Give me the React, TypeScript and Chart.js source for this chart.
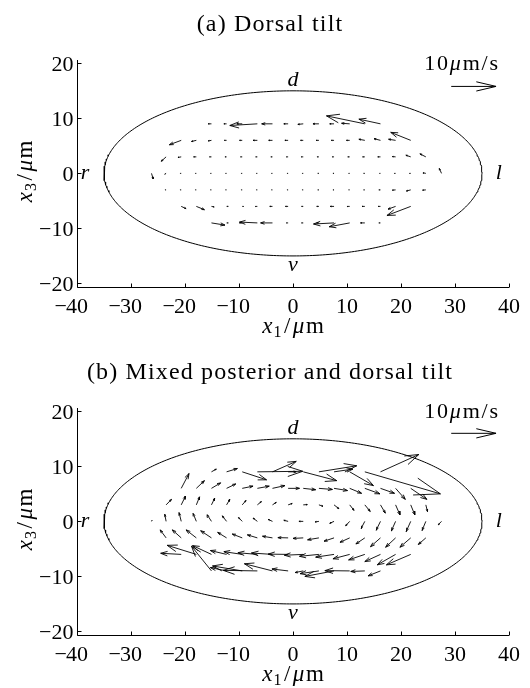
import { useEffect, useRef } from "react";
import { Chart, registerables } from "chart.js";

Chart.register(...registerables);

// ---- axes ----
const X_MIN = -40;
const X_MAX = 40;
const Y_MIN = -20.7;
const Y_MAX = 20.6;
const X_TICKS = [-40, -30, -20, -10, 0, 10, 20, 30, 40];
const Y_TICKS = [-20, -10, 0, 10, 20];

// ---- cell outline (semi-axes, µm) ----
const CELL_A = 35;
const CELL_B = 15;

// ---- quiver grid ----
const GRID_X = [-26.2, -23.5, -20.7, -17.9, -15.1, -12.3, -9.4, -6.6, -3.8, -0.9, 1.9, 4.8, 7.6, 10.5, 13.3, 16.2, 19.0, 21.8, 24.6, 27.5];
const GRID_Y = [9, 6, 3, 0, -3, -6, -9];
const ROW_START = [4, 2, 1, 0, 1, 2, 4];

// ---- panel (a) Dorsal tilt : arrow components (plot units) ----
const A_U = [
  [-0.6, -0.5, -1.0, -5.1, -2.0, -0.8, -1.0, -1.1, -0.8, -1.5, -7.1, -4.0],
  [-2.2, -0.9, -0.6, -0.4, -0.5, -0.8, -0.7, -0.6, -0.5, -0.5, -0.5, -0.6, -1.1, -1.2, -1.3, -3.7],
  [-0.9, -0.6, -0.5, -0.35, -0.3, -0.3, -0.3, -0.3, -0.3, -0.4, -0.35, -0.35, -0.35, -0.4, -0.5, -0.6, -0.9, -1.1],
  [0.3, -0.25, -0.2, -0.2, -0.2, -0.2, -0.2, -0.2, -0.2, -0.2, -0.2, -0.2, -0.2, -0.2, -0.2, -0.2, -0.25, -0.25, -0.5, -0.4],
  [-0.2, -0.2, -0.2, -0.2, -0.2, -0.2, -0.2, -0.2, -0.2, -0.2, -0.2, -0.2, -0.2, -0.2, -0.3, -0.6, -0.8, -0.6],
  [0.9, 1.5, 0.5, 0.3, 0.25, -0.4, -0.5, -0.5, -0.3, -0.4, -0.7, -0.5, -0.5, -0.4, -1.4, -4.4],
  [2.5, 0.3, -0.5, -3.3, -2.2, -0.3, -0.3, -0.4, -3.8, -3.8, -0.8, -0.3],
];
const A_V = [
  [0, 0, 0, -0.3, 0, 0, -0.1, 0, 0, 0.1, 1.45, 0.85],
  [-0.8, -0.2, -0.1, 0, 0, 0, 0, 0, 0, 0, 0, 0, 0.2, 0.3, 0.2, 1.45],
  [-0.8, -0.1, 0, 0, 0, 0, 0, 0, 0, 0, 0, 0, 0, 0, 0, 0.05, 0.3, 0.55],
  [-1.0, -0.15, 0, 0, 0, 0, 0, 0, 0, 0, 0, 0, 0, 0, 0, 0, 0, 0, 0.1, 0.9],
  [0, 0, 0, 0, 0, 0, 0, 0, 0, 0, 0, 0, 0, 0, 0, -0.05, -0.2, -0.05],
  [-0.4, -0.6, -0.1, 0, 0, 0, 0, 0, 0, 0, 0, 0, 0, 0, -0.5, -1.65],
  [-0.4, 0, 0, 0.15, 0, 0, 0, 0, -0.2, -0.7, 0, 0],
];

// ---- panel (b) Mixed posterior and dorsal tilt ----
const B_U = [
  [0.9, 2.0, 4.5, 8.4, 4.4, 1.5, 6.2, 7.0, 3.5, 4.4, 14.0, 7.1],
  [1.45, 1.5, 1.7, 1.7, 2.0, 2.2, 2.3, 2.1, 2.3, 2.5, 2.5, 2.2, 2.8, 2.6, 1.8, 3.0],
  [1.0, 0.8, 0.6, 0.6, 0.6, 0.7, 0.75, 0.7, 0.75, 0.75, 0.75, 0.9, 0.8, 1.0, 0.9, 0.8, 0.75, 0.3],
  [0.1, -0.25, -0.4, -0.6, -0.8, -0.8, -0.7, -0.8, -0.8, -0.8, -0.8, -0.7, -0.8, -0.75, -0.7, -0.8, -0.8, -0.85, -0.7, -0.6],
  [-1.1, -1.65, -1.9, -2.0, -1.65, -1.85, -1.85, -1.85, -1.9, -1.9, -2.1, -1.85, -1.8, -1.65, -1.85, -1.85, -2.0, -1.4],
  [-3.8, -5.4, -3.5, -3.0, -3.4, -3.6, -3.9, -3.7, -3.5, -3.6, -3.4, -3.1, -3.0, -2.9, -3.4, -4.5],
  [-3.7, -3.0, -5.5, -6.3, -5.2, -3.0, -1.5, -3.5, -5.4, -4.6, -2.6, -2.3],
];
const B_V = [
  [0.5, 0.6, -1.45, 0.1, 1.9, 0, -1.6, 1.1, 0.5, -2.5, -4.0, 3.15],
  [2.7, 1.4, 1.0, 0.8, 0.4, 0.4, 0.5, 0.0, -0.25, -0.2, -0.4, -0.9, -1.0, -0.9, -2.0, -2.0],
  [1.0, 1.6, 1.45, 1.2, 1.0, 0.8, 0.6, 0.45, 0.25, 0.05, -0.25, -0.7, -1.0, -1.2, -1.5, -1.8, -1.8, -1.2],
  [0.2, 1.3, 1.6, 1.45, 1.2, 1.0, 0.7, 0.6, 0.35, 0.2, 0.0, -0.1, -0.35, -0.8, -1.3, -1.6, -1.75, -1.85, -1.65, -0.6],
  [1.45, 1.45, 1.45, 1.3, 1.0, 0.7, 0.55, 0.3, 0.05, -0.1, -0.35, -0.6, -0.8, -1.1, -1.6, -1.7, -1.7, -1.2],
  [0.2, 1.65, 1.6, 0.7, 0.5, 0.3, 0.25, 0.05, -0.15, -0.35, -0.5, -0.8, -1.0, -1.3, -1.9, -1.9],
  [4.5, 0.6, 0.9, 0.1, 1.3, 0.35, -0.3, -0.5, -1.0, 0.05, -0.1, -0.9],
];

const TITLES = ["(a) Dorsal tilt", "(b) Mixed posterior and dorsal tilt"];
const KEY_LABEL = "10";
const KEY_UNIT_MU = "\u03bc";
const KEY_UNIT_REST = "m/s";
const KEY_LENGTH = 8.3; // plot units representing 10 µm/s

const SERIF = '"Liberation Serif", "Times New Roman", serif';

type Pt = { x: number; y: number };

function gap(): Pt {
  return { x: NaN, y: NaN };
}

function arrowPts(x: number, y: number, u: number, v: number, alpha: number, beta: number): Pt[] {
  const tx = x + u;
  const ty = y + v;
  return [
    { x, y },
    { x: tx, y: ty },
    gap(),
    { x: tx - alpha * (u + beta * v), y: ty - alpha * (v - beta * u) },
    { x: tx, y: ty },
    { x: tx - alpha * (u - beta * v), y: ty - alpha * (v + beta * u) },
    gap(),
  ];
}

function quiverPoints(U: number[][], V: number[][]): Pt[] {
  const pts: Pt[] = [];
  GRID_Y.forEach((y, r) => {
    U[r].forEach((u, k) => {
      const x = GRID_X[ROW_START[r] + k];
      pts.push(...arrowPts(x, y, u, V[r][k], 0.33, 0.33));
    });
  });
  return pts;
}

function ellipsePoints(): Pt[] {
  const pts: Pt[] = [];
  const n = 360;
  for (let i = 0; i <= n; i++) {
    const t = (i / n) * 2 * Math.PI;
    pts.push({ x: CELL_A * Math.cos(t), y: CELL_B * Math.sin(t) });
  }
  return pts;
}

const decorPlugin = {
  id: "panelDecor",
  afterDraw(chart: any, _args: any, opts: any) {
    const { ctx, chartArea: ca, scales } = chart;
    const xs = scales.x;
    const ys = scales.y;
    ctx.save();
    ctx.strokeStyle = "#000";
    ctx.lineWidth = 1;
    ctx.beginPath();
    const ax = Math.round(ca.left) + 0.5;
    const ay = Math.round(ca.bottom) + 0.5;
    ctx.moveTo(ax, ca.top);
    ctx.lineTo(ax, ay);
    ctx.lineTo(ca.right, ay);
    X_TICKS.forEach((v) => {
      const px = Math.round(xs.getPixelForValue(v)) + 0.5;
      ctx.moveTo(px, ay);
      ctx.lineTo(px, ay - 4);
    });
    Y_TICKS.forEach((v) => {
      const py = Math.round(ys.getPixelForValue(v)) + 0.5;
      ctx.moveTo(ax, py);
      ctx.lineTo(ax + 4, py);
    });
    ctx.stroke();

    ctx.fillStyle = "#000";
    // tick labels
    ctx.font = `22px ${SERIF}`;
    ctx.textBaseline = "alphabetic";
    X_TICKS.forEach((v) => {
      const px = xs.getPixelForValue(v);
      const digits = String(Math.abs(v));
      ctx.textAlign = "center";
      ctx.fillText(digits, px, ca.bottom + 26);
      if (v < 0) {
        const w = ctx.measureText(digits).width;
        ctx.textAlign = "right";
        ctx.fillText("\u2212", px - w / 2 + 1, ca.bottom + 26);
      }
    });
    ctx.textAlign = "right";
    Y_TICKS.forEach((v) => {
      const py = ys.getPixelForValue(v);
      const s = v < 0 ? "\u2212" + String(-v) : String(v);
      ctx.fillText(s, ca.left - 3.5, py + 7.4);
    });

    // title
    ctx.font = `24px ${SERIF}`;
    ctx.textAlign = "center";
    try {
      (ctx as any).letterSpacing = "1.15px";
    } catch (e) {}
    ctx.fillText(opts.title, 270, 30.5);
    try {
      (ctx as any).letterSpacing = "0px";
    } catch (e) {}

    // x label  x1/µm
    const drawLabel = (cx: number, baseY: number, sub: string) => {
      const parts = [
        { t: "x", f: `italic 23px ${SERIF}`, dy: 0, sp: 1 },
        { t: sub, f: `16px ${SERIF}`, dy: 4.5, sp: 2.5 },
        { t: "/", f: `23px ${SERIF}`, dy: 0, sp: 2.5 },
        { t: "\u03bc", f: `italic 23px ${SERIF}`, dy: 0, sp: 1.5 },
        { t: "m", f: `23px ${SERIF}`, dy: 0, sp: 0 },
      ];
      let total = 0;
      parts.forEach((p) => {
        ctx.font = p.f;
        total += ctx.measureText(p.t).width + p.sp;
      });
      let x = cx - total / 2;
      ctx.textAlign = "left";
      parts.forEach((p) => {
        ctx.font = p.f;
        ctx.fillText(p.t, x, baseY + p.dy);
        x += ctx.measureText(p.t).width + p.sp;
      });
    };
    drawLabel(xs.getPixelForValue(0), 332.7, "1");
    ctx.save();
    ctx.translate(31.5, ys.getPixelForValue(0) - 2);
    ctx.rotate(-Math.PI / 2);
    drawLabel(0, 0, "3");
    ctx.restore();

    // orientation letters
    ctx.font = `italic 22px ${SERIF}`;
    ctx.textAlign = "center";
    ctx.fillText("d", xs.getPixelForValue(0), ys.getPixelForValue(15.9));
    ctx.fillText("v", xs.getPixelForValue(0), ys.getPixelForValue(-17.8));
    ctx.fillText("r", xs.getPixelForValue(-38.5), ys.getPixelForValue(-0.95));
    ctx.fillText("l", xs.getPixelForValue(38.1), ys.getPixelForValue(-0.95));

    // key label 10µm/s
    const keyParts = [
      { t: KEY_LABEL, f: `22px ${SERIF}` },
      { t: KEY_UNIT_MU, f: `italic 22px ${SERIF}` },
      { t: KEY_UNIT_REST, f: `22px ${SERIF}` },
    ];
    let kw = 0;
    const kSp = 1.8;
    keyParts.forEach((p) => {
      ctx.font = p.f;
      kw += ctx.measureText(p.t).width + kSp * p.t.length;
    });
    let kx = xs.getPixelForValue(38.3) - kw;
    const ky = ys.getPixelForValue(18.8);
    ctx.textAlign = "left";
    keyParts.forEach((p) => {
      ctx.font = p.f;
      try {
        (ctx as any).letterSpacing = kSp + "px";
      } catch (e) {}
      ctx.fillText(p.t, kx, ky);
      kx += ctx.measureText(p.t).width;
    });
    try {
      (ctx as any).letterSpacing = "0px";
    } catch (e) {}
    ctx.restore();
  },
};

function makeChart(canvas: HTMLCanvasElement, idx: number, height: number) {
  const U = idx === 0 ? A_U : B_U;
  const V = idx === 0 ? A_V : B_V;
  const keyY = idx === 0 ? 15.8 : 16.0;
  const keyX = 29.3;
  return new Chart(canvas, {
    type: "scatter",
    data: {
      datasets: [
        {
          data: ellipsePoints(),
          showLine: true,
          borderColor: "#000",
          borderWidth: 1,
          pointRadius: 0,
          tension: 0,
        } as any,
        {
          data: quiverPoints(U, V),
          showLine: true,
          spanGaps: false,
          borderColor: "#000",
          borderWidth: 0.9,
          pointRadius: 0,
          tension: 0,
        } as any,
        {
          data: arrowPts(keyX, keyY, KEY_LENGTH, 0, 0.44, 0.23),
          showLine: true,
          spanGaps: false,
          borderColor: "#000",
          borderWidth: 1,
          pointRadius: 0,
          tension: 0,
        } as any,
      ],
    },
    options: {
      animation: false,
      responsive: false,
      devicePixelRatio: 1,
      events: [],
      layout: { padding: { top: 60, right: 21, left: 0, bottom: 0 } },
      plugins: {
        legend: { display: false },
        tooltip: { enabled: false },
        title: { display: false },
        panelDecor: { title: TITLES[idx] },
      } as any,
      scales: {
        x: {
          type: "linear",
          min: X_MIN,
          max: X_MAX,
          ticks: { display: false },
          grid: { display: false },
          border: { display: false },
          afterFit: (s: any) => {
            s.height = height - 287.3;
          },
        },
        y: {
          type: "linear",
          min: Y_MIN,
          max: Y_MAX,
          ticks: { display: false },
          grid: { display: false },
          border: { display: false },
          afterFit: (s: any) => {
            s.width = 77;
          },
        },
      },
    },
    plugins: [decorPlugin],
  });
}

export default function App() {
  const refA = useRef<HTMLCanvasElement | null>(null);
  const refB = useRef<HTMLCanvasElement | null>(null);
  useEffect(() => {
    const charts: Chart[] = [];
    if (refA.current) charts.push(makeChart(refA.current, 0, 348));
    if (refB.current) charts.push(makeChart(refB.current, 1, 340));
    return () => charts.forEach((c) => c.destroy());
  }, []);
  return (
    <div style={{ position: "absolute", left: 0, top: 0, width: 530, height: 688, background: "#fff" }}>
      <canvas ref={refA} width={530} height={348} style={{ position: "absolute", left: 0, top: 0, width: 530, height: 348 }} />
      <canvas ref={refB} width={530} height={340} style={{ position: "absolute", left: 0, top: 348, width: 530, height: 340 }} />
    </div>
  );
}
